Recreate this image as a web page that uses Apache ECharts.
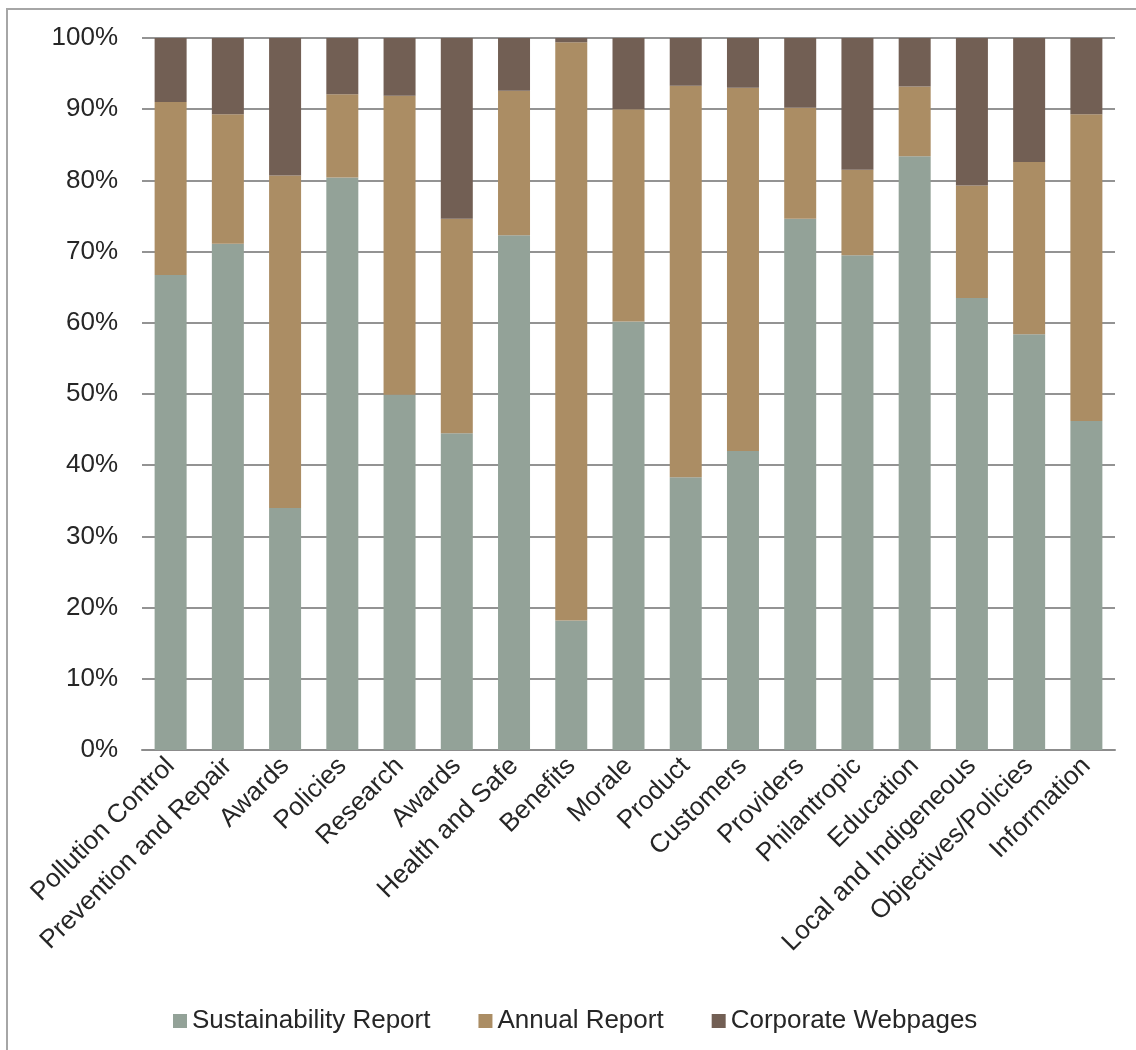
<!DOCTYPE html>
<html>
<head>
<meta charset="utf-8">
<script src="https://cdn.jsdelivr.net/npm/echarts@6/dist/echarts.min.js"></script>
<style>
  html, body { margin: 0; padding: 0; background: #fff; }
  #myChart { width: 1136px; height: 1050px; }
</style>
</head>
<body>
<div id="myChart"></div>
<script>
// categories (x axis)
var categories = ['Pollution Control', 'Prevention and Repair', 'Awards', 'Policies', 'Research',
  'Awards', 'Health and Safe', 'Benefits', 'Morale', 'Product', 'Customers', 'Providers',
  'Philantropic', 'Education', 'Local and Indigeneous', 'Objectives/Policies', 'Information'];

// shares in percent
var sustainability = [66.7, 71.1, 34.0, 80.4, 49.9, 44.5, 72.3, 18.2, 60.2, 38.3, 42.0, 74.6, 69.5, 83.4, 63.5, 58.4, 46.2];
var annual         = [24.3, 18.2, 46.7, 11.7, 42.0, 30.1, 20.3, 81.2, 29.8, 55.0, 51.0, 15.6, 12.0,  9.8, 15.8, 24.2, 43.1];
var corporate      = [ 9.0, 10.7, 19.3,  7.9,  8.1, 25.4,  7.4,  0.6, 10.0,  6.7,  7.0,  9.8, 18.5,  6.8, 20.7, 17.4, 10.7];

var seriesNames = ['Sustainability Report', 'Annual Report', 'Corporate Webpages'];
var colors = ['#93A298', '#AB8D64', '#725F54'];

var fontName = "'Liberation Sans', Arial, sans-serif";
var textColor = '#262626';

var myChart = echarts.init(document.getElementById('myChart'));

var option = {
    color: colors,
    animation: false,
    graphic: [{
        type: 'rect',
        z: -10,
        shape: {x: 7, y: 9, width: 1200, height: 1100},
        style: {fill: 'none', stroke: '#A6A6A6', lineWidth: 2}
    }],
    grid: {
        left: 142,
        right: 21,
        top: 38,
        bottom: 300
    },
    legend: {
        data: seriesNames,
        top: 1003,
        left: 168,
        icon: 'rect',
        itemWidth: 14,
        itemHeight: 14,
        itemGap: 48,
        textStyle: {fontSize: 26, color: textColor, fontFamily: fontName}
    },
    xAxis: {
        type: 'category',
        data: categories,
        axisLine: {lineStyle: {color: '#8C8C8C', width: 2}},
        axisTick: {show: false},
        axisLabel: {
            interval: 0,
            rotate: 45,
            margin: 12,
            fontSize: 26,
            color: textColor,
            fontFamily: fontName
        }
    },
    yAxis: {
        type: 'value',
        min: 0,
        max: 100,
        interval: 10,
        axisLine: {show: false},
        axisTick: {show: false},
        splitLine: {lineStyle: {color: '#939393', width: 2}},
        axisLabel: {
            formatter: '{value}%',
            margin: 24,
            fontSize: 26,
            color: textColor,
            fontFamily: fontName
        }
    },
    series: []
};

var dataList = [sustainability, annual, corporate];
for (var m = 0; m < dataList.length; m++) {
    option.series.push({
        name: seriesNames[m],
        type: 'bar',
        stack: 'total',
        barWidth: 32,
        data: dataList[m]
    });
}

myChart.setOption(option);
</script>
</body>
</html>
